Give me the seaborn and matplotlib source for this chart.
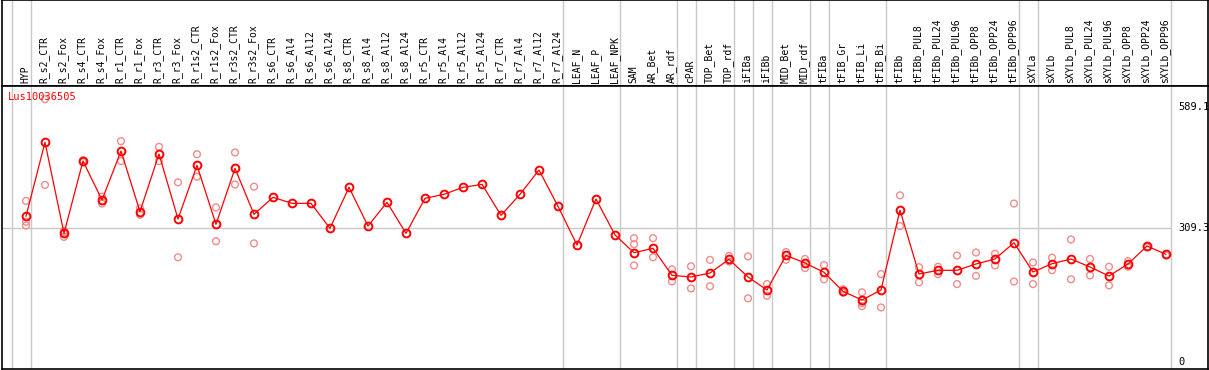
import numpy as np
import pandas as pd
import matplotlib
matplotlib.use("Agg")
import matplotlib.pyplot as plt
import seaborn as sns

nan = np.nan

gene = "Lus10036505"

samples = [
    "HYP", "R_s2_CTR", "R_s2_Fox", "R_s4_CTR", "R_s4_Fox", "R_r1_CTR", "R_r1_Fox",
    "R_r3_CTR", "R_r3_Fox", "R_r1s2_CTR", "R_r1s2_Fox", "R_r3s2_CTR", "R_r3s2_Fox",
    "R_s6_CTR", "R_s6_Al4", "R_s6_Al12", "R_s6_Al24", "R_s8_CTR", "R_s8_Al4",
    "R_s8_Al12", "R_s8_Al24", "R_r5_CTR", "R_r5_Al4", "R_r5_Al12", "R_r5_Al24",
    "R_r7_CTR", "R_r7_Al4", "R_r7_Al12", "R_r7_Al24", "LEAF_N", "LEAF_P", "LEAF_NPK",
    "SAM", "AR_Bet", "AR_rdf", "cPAR", "TOP_Bet", "TOP_rdf", "iFIBa", "iFIBb",
    "MID_Bet", "MID_rdf", "tFIBa", "tFIB_Gr", "tFIB_Li", "tFIB_Bi", "tFIBb",
    "tFIBb_PUL8", "tFIBb_PUL24", "tFIBb_PUL96", "tFIBb_OPP8", "tFIBb_OPP24",
    "tFIBb_OPP96", "sXYLa", "sXYLb", "sXYLb_PUL8", "sXYLb_PUL24", "sXYLb_PUL96",
    "sXYLb_OPP8", "sXYLb_OPP24", "sXYLb_OPP96",
]

# mean expression per sample
mean_expr = [
    336.6, 507.5, 297.2, 464.3, 374.2, 487.4, 347.3, 480.5, 330.3, 454.3, 318.0,
    447.3, 341.1, 380.4, 366.5, 366.5, 308.8, 403.5, 314.2, 368.8, 297.2, 378.1,
    387.3, 403.5, 410.4, 338.8, 387.3, 443.5, 359.6, 270.3, 376.5, 293.4,
    252.5, 262.6, 200.2, 196.4, 205.6, 237.2, 196.4, 166.3, 246.4, 228.7,
    207.2, 163.2, 143.2, 166.3, 350.8, 203.3, 211.8, 211.8, 226.4, 237.9,
    275.6, 207.9, 227.1, 237.9, 219.5, 198.7, 226.4, 268.0, 248.7,
]

# individual replicates (nan = not shown)
rep_a = [
    372, 607, 289, 466, 382, 510, 355, 497, 415, 480, 357, 484, 405,
    nan, nan, nan, nan, nan, nan, nan, nan, nan, nan, nan, nan, nan, nan, nan, nan,
    nan, nan, nan,
    286, 286, 214, 221, 236, 245, 244, 180, 254, 238, 224, 168, 161, 203, 385,
    219, 220, 246, 253, 250, 366, 230, 241, 283, 238, 220, 233, 265, 246,
]
rep_b = [
    324, 409, 303, 462, 366, 464, 340, 464, 242, 428, 279, 410, 274,
    nan, nan, nan, nan, nan, nan, nan, nan, nan, nan, nan, nan, nan, nan, nan, nan,
    nan, nan, nan,
    272, 242, 186, 170, 175, 232, 147, 153, 236, 217, 191, 160, 136, 126, 314,
    184, 203, 180, 199, 223, 186, 180, 212, 191, 200, 177, 220, nan, nan,
]
rep_c = [
    315, nan, 300, nan, nan, nan, nan, nan, nan, nan, nan, nan, nan,
    nan, nan, nan, nan, nan, nan, nan, nan, nan, nan, nan, nan, nan, nan, nan, nan,
    nan, nan, nan,
    223, nan, nan, nan, nan, nan, nan, nan, nan, nan, nan, nan, 129, nan, nan,
    nan, nan, nan, nan, nan, nan, nan, nan, nan, nan, nan, nan, nan, nan,
]

# last sample of each group (vertical separators)
group_ends = ["HYP", "R_r7_Al24", "LEAF_NPK", "AR_rdf", "cPAR", "TOP_rdf", "iFIBa",
              "iFIBb", "MID_rdf", "tFIBa", "tFIB_Bi", "tFIBb_OPP96", "sXYLa", "sXYLb_OPP96"]

axis_marks = [589.1, 309.3, 0]

idx = np.arange(len(samples))
df = pd.DataFrame({"pos": idx, "sample": samples, "expr": mean_expr})
reps = pd.DataFrame({
    "pos": np.tile(idx, 3),
    "expr": rep_a + rep_b + rep_c,
}).dropna()

sns.set_style("white")
plt.rcParams["font.family"] = ["DejaVu Sans Mono"]

W, H = 1209, 370
fig = plt.figure(figsize=(W / 100, H / 100), dpi=100)
head_px = 86
ax_h = fig.add_axes([2 / W, (H - head_px) / H, 1206 / W, head_px / H])
ax = fig.add_axes([2 / W, 1 / H, 1206 / W, (H - head_px - 1) / H])

xlim = ((2 - 26) / 19, (1208 - 26) / 19)
for a in (ax, ax_h):
    a.set_xlim(*xlim)
    a.set_xticks([])
    a.set_yticks([])
    for s in a.spines.values():
        s.set_color("black")
        s.set_linewidth(1.2)
    a.axvline(-1 + 4.5 / 19, color="#c8c8c8", lw=1.0, zorder=0)
    for g in group_ends:
        a.axvline(samples.index(g) + 4.5 / 19, color="#c8c8c8", lw=1.0, zorder=0)

ax_h.set_ylim(0, 1)
for i, s in enumerate(samples):
    ax_h.text(i - 0.05, 0.035, s, rotation=90, ha="center", va="bottom",
              fontsize=7.0, color="black")

ax.set_ylim((362 - 369) * 2.31, (362 - 86) * 2.31)
right_edge = samples.index("sXYLb_OPP96") + 4.5 / 19
ax.hlines(axis_marks[1], xlim[0], right_edge, color="#c8c8c8", lw=1.0, zorder=0)

sns.scatterplot(data=reps, x="pos", y="expr", ax=ax, marker="o", s=24,
                facecolor="none", edgecolor="#f08c8c", linewidth=1.0, zorder=2,
                legend=False)
sns.lineplot(data=df, x="pos", y="expr", ax=ax, color="red", lw=0.9,
             marker="o", markersize=5.6, markerfacecolor="none",
             markeredgecolor="red", markeredgewidth=1.4, zorder=3)
ax.set_xlabel("")
ax.set_ylabel("")

for v in axis_marks:
    ax.text((1178 - 26) / 19, v, f"{v:g}" if v != 0 else "0", ha="left",
            va="center", fontsize=7.5, color="black")

ax.text((8 - 26) / 19, (362 - 97) * 2.31, gene, color="red", fontsize=7.5,
        ha="left", va="center")

fig.savefig("out.png", dpi=100)
